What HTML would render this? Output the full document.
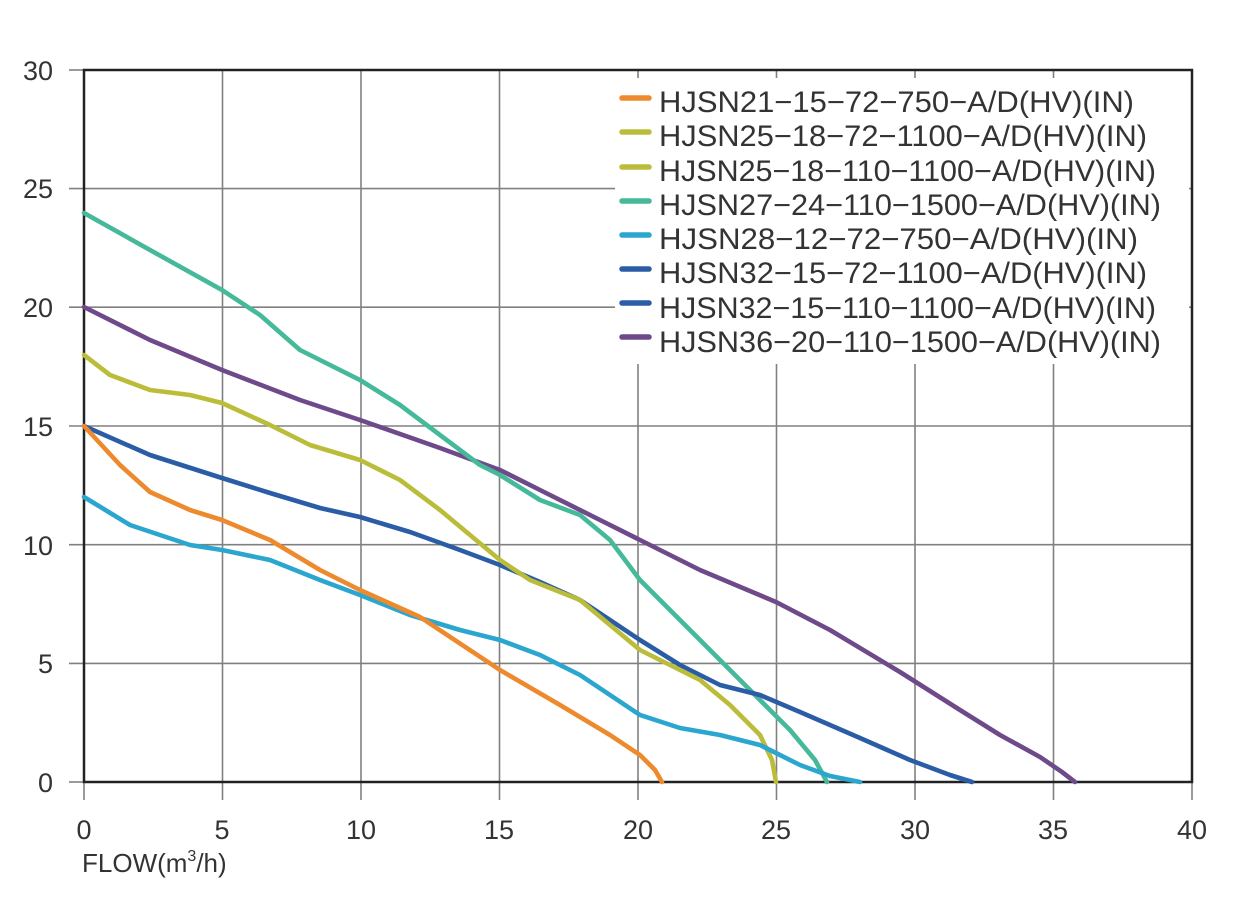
<!DOCTYPE html>
<html><head><meta charset="utf-8"><style>
html,body{margin:0;padding:0;background:#fff;}
svg{display:block;font-family:"Liberation Sans",sans-serif;}
</style></head><body>
<svg width="1246" height="913" viewBox="0 0 1246 913" xmlns="http://www.w3.org/2000/svg">
<rect width="1246" height="913" fill="#fff"/>
<g stroke="#808080" stroke-width="1.6">
<line x1="222.5" y1="70" x2="222.5" y2="800"/>
<line x1="361" y1="70" x2="361" y2="800"/>
<line x1="499.5" y1="70" x2="499.5" y2="800"/>
<line x1="638" y1="70" x2="638" y2="800"/>
<line x1="776.5" y1="70" x2="776.5" y2="800"/>
<line x1="915" y1="70" x2="915" y2="800"/>
<line x1="1053.5" y1="70" x2="1053.5" y2="800"/>
<line x1="84" y1="782" x2="84" y2="800"/>
<line x1="1192" y1="782" x2="1192" y2="800"/>
<line x1="69" y1="188.6" x2="1192" y2="188.6"/>
<line x1="69" y1="307.2" x2="1192" y2="307.2"/>
<line x1="69" y1="426" x2="1192" y2="426"/>
<line x1="69" y1="544.7" x2="1192" y2="544.7"/>
<line x1="69" y1="663.4" x2="1192" y2="663.4"/>
<line x1="69" y1="70" x2="84" y2="70"/>
<line x1="69" y1="782" x2="84" y2="782"/>
</g>
<rect x="615" y="78" width="574" height="286" fill="#fff"/>
<rect x="84" y="70" width="1108" height="712" fill="none" stroke="#222" stroke-width="2.5"/>
<g fill="none" stroke-width="4.6" stroke-linejoin="round" stroke-linecap="round">
<polyline stroke="#6F4A8A" points="84,307 150,340 222,370 300,400 360,420 440,448 500,470 540,490 600,520 640,540 700,570 776,602 830,630 900,672 960,710 1000,735 1040,757 1062,772 1075,782"/>
<polyline stroke="#45B99A" points="84,213 150,250 222,290 260,315 300,350 360,380 400,405 440,435 480,465 500,475 540,500 580,515 610,540 640,580 680,620 720,660 760,700 790,730 815,760 827,782"/>
<polyline stroke="#2B5DA6" points="84,426 150,455 222,478 270,493 320,508 360,517 410,532 460,550 500,565 540,582 580,600 610,620 640,640 680,665 720,685 760,695 800,712 860,738 910,760 950,775 972,782"/>
<polyline stroke="#BBBD3A" points="84,355 110,375 150,390 190,395 222,403 270,425 310,445 360,460 400,480 440,510 470,535 500,560 530,580 580,600 610,625 640,650 670,665 700,680 730,705 760,735 772,760 776,782"/>
<polyline stroke="#2AA6CF" points="84,497 130,525 190,545 222,550 270,560 320,580 360,595 410,615 460,630 500,640 540,655 580,675 610,695 640,715 680,728 720,735 760,745 800,765 830,776 860,782"/>
<polyline stroke="#EE8A2E" points="84,426 120,465 150,492 190,510 222,520 270,540 320,570 360,590 420,617 500,670 560,705 610,735 640,755 655,770 662,782"/>
</g>
<g stroke-width="5.5" stroke-linecap="round">
<line x1="622" y1="98" x2="649" y2="98" stroke="#EE8A2E"/>
<line x1="622" y1="132" x2="649" y2="132" stroke="#BBBD3A"/>
<line x1="622" y1="167" x2="649" y2="167" stroke="#BBBD3A"/>
<line x1="622" y1="201" x2="649" y2="201" stroke="#45B99A"/>
<line x1="622" y1="235" x2="649" y2="235" stroke="#2AA6CF"/>
<line x1="622" y1="269" x2="649" y2="269" stroke="#2B5DA6"/>
<line x1="622" y1="303" x2="649" y2="303" stroke="#2B5DA6"/>
<line x1="622" y1="337" x2="649" y2="337" stroke="#6F4A8A"/>
</g>
<g font-size="29.5" fill="#333">
<text x="659" y="112" textLength="475" lengthAdjust="spacingAndGlyphs">HJSN21−15−72−750−A/D(HV)(IN)</text>
<text x="659" y="146" textLength="488" lengthAdjust="spacingAndGlyphs">HJSN25−18−72−1100−A/D(HV)(IN)</text>
<text x="659" y="181" textLength="497" lengthAdjust="spacingAndGlyphs">HJSN25−18−110−1100−A/D(HV)(IN)</text>
<text x="659" y="215" textLength="502" lengthAdjust="spacingAndGlyphs">HJSN27−24−110−1500−A/D(HV)(IN)</text>
<text x="659" y="249" textLength="479" lengthAdjust="spacingAndGlyphs">HJSN28−12−72−750−A/D(HV)(IN)</text>
<text x="659" y="283" textLength="488" lengthAdjust="spacingAndGlyphs">HJSN32−15−72−1100−A/D(HV)(IN)</text>
<text x="659" y="318" textLength="497" lengthAdjust="spacingAndGlyphs">HJSN32−15−110−1100−A/D(HV)(IN)</text>
<text x="659" y="352" textLength="502" lengthAdjust="spacingAndGlyphs">HJSN36−20−110−1500−A/D(HV)(IN)</text>
</g>
<g font-size="27" fill="#333" text-anchor="end">
<text x="53" y="80">30</text>
<text x="53" y="198">25</text>
<text x="53" y="317">20</text>
<text x="53" y="436">15</text>
<text x="53" y="555">10</text>
<text x="53" y="673">5</text>
<text x="53" y="792">0</text>
</g>
<g font-size="27" fill="#333" text-anchor="middle">
<text x="84" y="839">0</text>
<text x="222" y="839">5</text>
<text x="361" y="839">10</text>
<text x="499" y="839">15</text>
<text x="638" y="839">20</text>
<text x="776" y="839">25</text>
<text x="915" y="839">30</text>
<text x="1053" y="839">35</text>
<text x="1192" y="839">40</text>
</g>
<text x="82" y="872" font-size="26" fill="#333">FLOW(m<tspan font-size="16" dy="-11">3</tspan><tspan dy="11">/h)</tspan></text>
</svg>
</body></html>
